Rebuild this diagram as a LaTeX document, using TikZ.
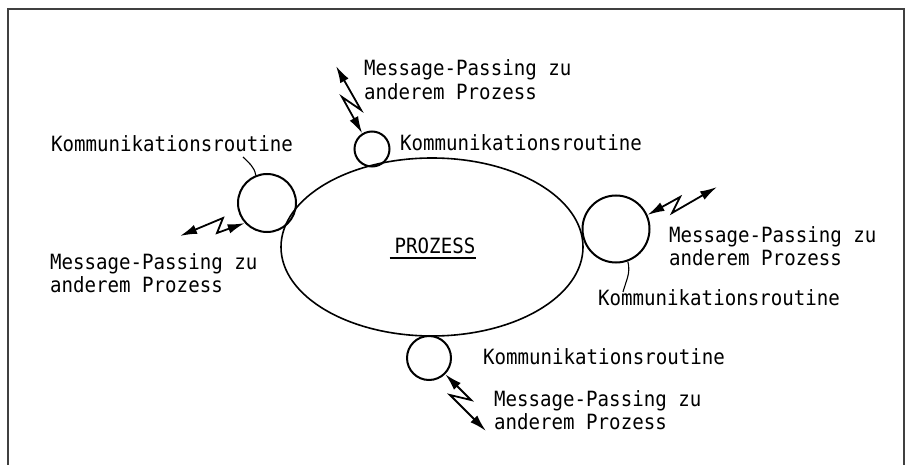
\documentclass[tikz,border=0pt]{standalone}
\usepackage{fontspec}
\setmonofont[FakeStretch=0.91]{DejaVu Sans Mono}
\usetikzlibrary{arrows.meta,shapes.geometric}
\begin{document}
\begin{tikzpicture}[x=1pt,y=1pt,
  lbl/.style={font=\ttfamily\fontsize{21}{23.5}\selectfont, inner sep=0pt, anchor=west, align=left},
  komm/.style={circle, draw, line width=2pt, inner sep=0pt},
  flash/.style={line width=1.8pt, line join=miter, {Latex[length=17pt,width=9.5pt]}-{Latex[length=17pt,width=9.5pt]}},
  leader/.style={line width=1.1pt},
  framestyle/.style={line width=1.3pt, draw=black!75}]
\useasboundingbox (0,0) rectangle (910,464);
% frame
\coordinate (f1) at (8,-10);
\coordinate (f2) at (8,455);
\coordinate (f3) at (904,455);
\coordinate (f4) at (904,-10);
\draw[framestyle] (f1) -- (f2) -- (f3) -- (f4);
% process
\node[ellipse, draw, line width=1.6pt, minimum width=302pt, minimum height=178pt, inner sep=0pt] (proc) at (432,217) {};
\node[lbl, anchor=center] (proz) at (435,218) {PROZESS};
\draw[line width=1.3pt] ([xshift=-5pt,yshift=-4.5pt]proz.base west) -- ([xshift=1pt,yshift=-4.5pt]proz.base east);
% communication routines
\node[komm, minimum size=35pt] (ctop) at (372,315) {};
\node[komm, minimum size=58pt] (cleft) at (267,261) {};
\node[komm, minimum size=67pt] (cright) at (616,235) {};
\node[komm, minimum size=44pt] (cbot) at (429,106) {};
% labels
\node[lbl] (ktop) at (400,321) {Kommunikationsroutine};
\node[lbl] (kleft) at (51,320) {Kommunikationsroutine};
\node[lbl] (kright) at (598,166) {Kommunikationsroutine};
\node[lbl] (kbot) at (483,107) {Kommunikationsroutine};
\node[lbl] (mtop) at (364,384.5) {Message-Passing zu\\anderem Prozess};
\node[lbl] (mleft) at (50,191) {Message-Passing zu\\anderem Prozess};
\node[lbl] (mright) at (669,218) {Message-Passing zu\\anderem Prozess};
\node[lbl] (mbot) at (494,54) {Message-Passing zu\\anderem Prozess};
% leader lines
\coordinate (lleft) at (243,307);
\coordinate (lright) at (623,172);
\draw[leader] (cleft.112) to[out=100,in=-45] (lleft);
\draw[leader] (cright.-70) to[out=-75,in=75] (lright);
% message passing flashes
\coordinate (tout) at (336,398);
\coordinate (ta) at (361,354);
\coordinate (tb) at (342,367);
\draw[flash] (tout) -- (ta) -- (tb) -- (ctop.122);
\coordinate (lout) at (180,228);
\coordinate (la) at (223,246);
\coordinate (lb) at (217,231);
\draw[flash] (lout) -- (la) -- (lb) -- (cleft.222);
\coordinate (rout) at (717,277);
\coordinate (ra) at (672,251);
\coordinate (rb) at (680,267);
\draw[flash] (rout) -- (ra) -- (rb) -- (cright.24);
\coordinate (bout) at (486,33);
\coordinate (bb) at (450,69);
\coordinate (ba) at (471,64);
\draw[flash] (bout) -- (bb) -- (ba) -- (cbot.-45);
\end{tikzpicture}
\end{document}
